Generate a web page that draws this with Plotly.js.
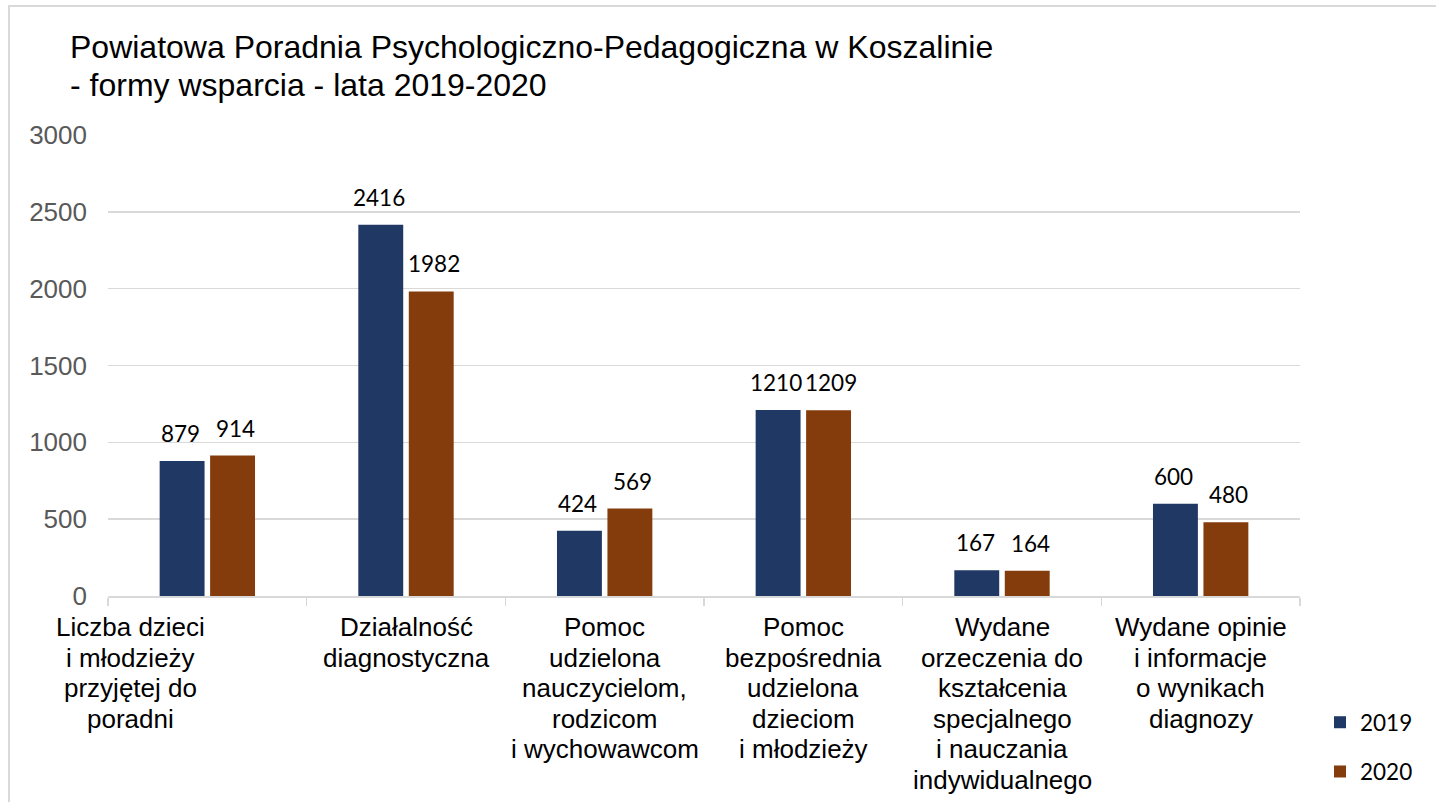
<!DOCTYPE html>
<html>
<head>
<meta charset="utf-8">
<script src="https://cdn.plot.ly/plotly-3.0.1.min.js"></script>
<style>
  html, body { margin: 0; padding: 0; background: #fff; }
  #chart { width: 1436px; height: 802px; }
  #frame { position: absolute; left: 8px; top: 5px; width: 1428px; height: 797px;
           border-left: 2px solid #d9d9d9; border-top: 2px solid #d9d9d9; pointer-events: none; }
</style>
</head>
<body>
<div id="chart"></div>
<div id="frame"></div>
<script>
// ---- data ----
const categories = [
  "Liczba dzieci\ni młodzieży\nprzyjętej do\nporadni",
  "Działalność\ndiagnostyczna",
  "Pomoc\nudzielona\nnauczycielom,\nrodzicom\ni wychowawcom",
  "Pomoc\nbezpośrednia\nudzielona\ndzieciom\ni młodzieży",
  "Wydane\norzeczenia do\nkształcenia\nspecjalnego\ni nauczania\nindywidualnego",
  "Wydane opinie\ni informacje\no wynikach\ndiagnozy"
];
const values2019 = [879, 2416, 424, 1210, 167, 600];
const values2020 = [914, 1982, 569, 1209, 164, 480];
const seriesNames = ["2019", "2020"];
const yTicks = [0, 500, 1000, 1500, 2000, 2500, 3000];
const titleLines = [
  "Powiatowa Poradnia Psychologiczno-Pedagogiczna w Koszalinie",
  "- formy wsparcia - lata 2019-2020"
];

// ---- style ----
const colors = ["#203864", "#843C0C"];
const labelShift = [-77, 0, 0, 0, 0, 0];
const arial = "Liberation Sans, Arial, sans-serif";
const calib = "Lato, Carlito, Calibri, sans-serif";

const traces = [values2019, values2020].map((vals, k) => ({
  type: "bar",
  name: seriesNames[k],
  x: categories,
  y: vals,
  marker: { color: colors[k], line: { width: 0 } },
  legendgroup: seriesNames[k],
  hoverinfo: "x+y"
}));

const annotations = [];
// title lines
titleLines.forEach((t, j) => {
  annotations.push({
    xref: "paper", yref: "paper", x: 0, y: 1,
    xanchor: "left", yanchor: "middle",
    xshift: -40, yshift: 88 - 38 * j,
    text: t, showarrow: false,
    font: { family: arial, size: 32, color: "#000" }
  });
});
// value labels
[values2019, values2020].forEach((vals, k) => {
  vals.forEach((v, i) => {
    annotations.push({
      xref: "x", yref: "y", x: categories[i], y: v,
      xanchor: "center", yanchor: "middle",
      xshift: k === 0 ? -27 : 28, yshift: 27.5,
      text: String(v), showarrow: false,
      font: { family: calib, size: 22.5, color: "#000" }
    });
  });
});
// category labels (multi-line)
categories.forEach((c, i) => {
  c.split("\n").forEach((line, j) => {
    annotations.push({
      xref: "x", yref: "paper", x: c, y: 0,
      xanchor: "center", yanchor: "middle",
      xshift: labelShift[i], yshift: -(31 + 30.6 * j),
      text: line, showarrow: false,
      font: { family: arial, size: 26, color: "#000" }
    });
  });
});

const layout = {
  width: 1436, height: 802,
  paper_bgcolor: "#fff", plot_bgcolor: "#fff",
  margin: { l: 108, r: 136, t: 135, b: 206, autoexpand: false },
  barmode: "group",
  bargap: 0.492,
  bargroupgap: 0.11,
  xaxis: {
    type: "category",
    range: [-0.5, categories.length - 0.5],
    autorange: false,
    showticklabels: false,
    showgrid: false,
    showline: true, linecolor: "#d9d9d9", linewidth: 1.5,
    ticks: "outside", tickson: "boundaries", ticklen: 8,
    tickcolor: "#d9d9d9", tickwidth: 1.5,
    automargin: false, fixedrange: true
  },
  yaxis: {
    range: [0, 3000],
    autorange: false,
    tickvals: yTicks,
    ticktext: yTicks.map(String),
    showgrid: true, gridcolor: "#d9d9d9", gridwidth: 1.5,
    zeroline: false, showline: false, ticks: "",
    ticklabelstandoff: 20,
    tickfont: { family: arial, size: 26, color: "#595959" },
    automargin: false, fixedrange: true
  },
  showlegend: true,
  legend: {
    x: (1320 - 108) / 1192, xanchor: "left",
    y: -0.228, yanchor: "top",
    traceorder: "grouped",
    tracegroupgap: 17,
    bgcolor: "rgba(0,0,0,0)",
    font: { family: calib, size: 22.5, color: "#000" }
  },
  annotations: annotations
};

Plotly.newPlot("chart", traces, layout, { displayModeBar: false, staticPlot: true });
</script>
</body>
</html>
